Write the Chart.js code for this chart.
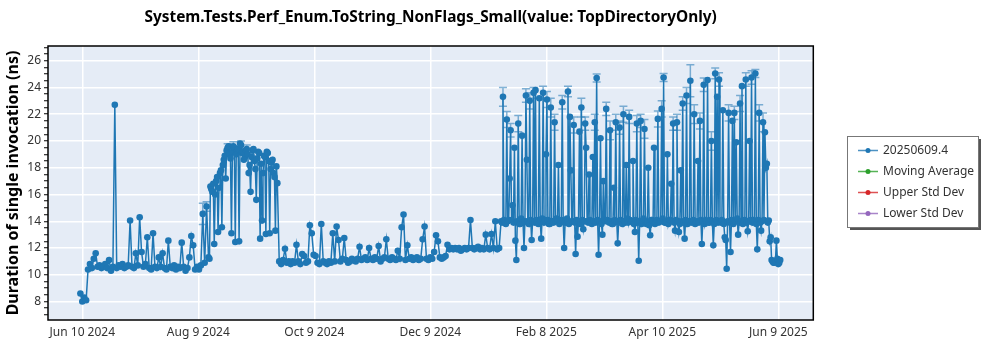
<!DOCTYPE html>
<html>
<head>
<meta charset="utf-8">
<script src="https://cdn.jsdelivr.net/npm/chart.js@4.4.1/dist/chart.umd.min.js"></script>
<style>
  html, body { margin: 0; padding: 0; background: #fff; }
  #wrap { width: 1000px; height: 350px; position: relative; }
</style>
</head>
<body>
<div id="wrap"><canvas id="chart" width="1000" height="350"></canvas></div>
<script>
'use strict';

// x values are days counted from Jun 10 2024
var tickDays = [0, 60.67, 121.33, 182, 242.67, 303.33, 364];
var tickLabels = ['Jun 10 2024', 'Aug 9 2024', 'Oct 9 2024', 'Dec 9 2024', 'Feb 8 2025', 'Apr 10 2025', 'Jun 9 2025'];
var yMajorTicks = [8, 10, 12, 14, 16, 18, 20, 22, 24, 26];

var seriesLabels = ['20250609.4', 'Moving Average', 'Upper Std Dev', 'Lower Std Dev'];
var seriesColors = ['#1f77b4', '#2ca02c', '#d62728', '#9467bd'];

// one run per day, split in periods
var junStart = -1;
var junValues = [
  8.6, 8.0, 8.3, 8.1, 10.4, 10.8, 10.5, 11.2, 11.6, 10.6,
  10.7, 10.5, 10.6, 10.8, 10.5, 11.1, 10.3, 10.6, 22.7, 10.5,
  10.7, 10.6, 10.8, 10.5, 10.6, 10.7, 14.05, 10.6, 10.5, 11.6,
  10.7, 14.3, 11.7, 10.6, 10.8, 12.8, 10.5, 10.4, 13.1, 10.6,
  10.5, 11.3, 10.6, 11.6, 10.5, 10.4, 12.55, 10.6, 10.5, 10.7,
  10.4, 10.6, 10.5, 12.4, 10.6, 10.3, 10.5, 11.3, 12.9, 12.2,
  10.4
];
var augStart = 60;
var augValues = [
  10.6, 10.4, 10.7, 14.55, 10.9, 15.1, 11.3, 16.6, 16.2, 12.3,
  17.0, 13.2, 17.6, 13.55, 18.6, 17.2, 19.5, 19.0, 13.1, 19.6,
  12.45, 19.3, 12.5, 19.7, 19.2, 18.8, 19.4, 17.6, 16.2, 19.3,
  18.5, 15.6, 19.2, 12.7, 14.05, 18.9, 13.05, 19.1, 13.1, 18.4,
  17.6, 13.3, 16.85
];
// second run of the day on the plateau
var augMidStart = 66.5;
var augMidValues = [
  11.2, 16.4, 16.8, 16.0, 17.3, 16.5, 17.8, 18.2, 18.9, 19.3,
  19.6, 18.7, 19.2, 19.5, 19.0, 19.4, 19.8, 19.1, 18.6, 19.3,
  19.0, 18.2, 18.8, 19.4, 17.9, 18.7, 19.1, 18.3, 17.6, 18.8,
  19.2, 18.5, 17.9, 18.6, 17.3, 18.1
];
var octStart = 103;
var octValues = [
  11.0, 10.8, 11.1, 11.95, 10.9, 11.0, 10.8, 11.0, 10.9, 12.25,
  11.0, 10.8, 11.55, 11.4, 10.9, 11.0, 13.7, 13.1, 11.5, 11.4,
  10.9, 10.8, 13.8, 11.0, 10.9, 10.8, 11.0, 10.9, 13.1, 11.0,
  13.6, 12.6, 11.0, 11.2, 12.75, 11.1, 10.9, 11.0, 11.2, 11.1,
  11.0, 11.2, 12.1, 11.1, 11.2, 11.3, 11.1, 12.0, 11.2, 11.1,
  11.3, 11.2, 12.15, 11.0, 11.2, 11.3, 12.65, 11.2, 11.1, 11.3,
  11.2, 11.1, 11.8, 11.2, 13.55, 14.5, 11.1, 12.2, 11.2, 11.3,
  11.1, 11.2, 11.3, 11.1, 11.2, 12.65, 13.6, 11.2, 11.1, 11.3,
  11.2, 11.7, 12.95, 12.5, 11.3, 11.2, 11.3, 11.4, 12.25, 11.9,
  12.0, 11.9, 12.0, 11.9, 12.0, 11.8, 11.9, 12.0, 11.9, 12.0,
  14.1, 12.0, 11.9, 12.0, 12.1, 11.9, 12.0, 11.9, 13.0, 12.0,
  11.9, 13.05, 12.0, 14.0, 11.9, 12.0
];
var janStart = 219;
var janValues = [
  14.0, 23.3, 13.9, 21.6, 14.1, 20.8, 15.2, 19.5, 11.1, 21.3,
  13.8, 20.4, 12.0, 23.4, 14.0, 23.0, 12.6, 23.6, 23.8, 13.9,
  23.2, 12.7, 23.6, 14.1, 23.1, 13.8, 22.5, 14.0, 21.4, 14.2,
  18.2, 13.9, 22.9, 12.0, 14.1, 23.7, 21.8, 14.0, 21.2, 11.55,
  12.85, 20.7, 22.5, 13.4, 21.3, 14.0, 17.5, 13.9, 18.8, 21.4,
  24.7, 11.5, 20.2, 13.0, 14.1, 22.4, 14.0, 20.8, 13.8, 16.5,
  21.4, 12.35, 21.0, 14.0, 22.0, 13.9, 14.2, 21.8, 14.0, 18.5,
  13.2, 21.3, 11.05, 21.5, 14.0, 20.9, 13.8, 18.0, 12.95, 14.1,
  19.5, 13.9, 21.65, 14.0, 22.4, 24.75, 13.9, 19.0, 14.1, 16.8,
  21.3, 13.3, 21.4, 13.2, 17.8, 22.8, 12.7, 23.4, 14.0, 24.5,
  14.0, 22.0, 13.9, 18.5, 21.5, 12.3, 24.2, 14.1, 24.55, 13.9,
  20.0, 12.2, 25.05, 23.3, 24.6, 13.9, 22.3, 12.8, 10.45, 22.1,
  11.7, 21.5, 22.1, 19.9, 13.0, 22.8, 24.1, 13.9, 24.6, 13.25,
  20.0, 24.75, 14.1, 25.05, 11.9, 22.1, 13.3, 21.4, 20.65, 18.3,
  14.05, 12.8, 11.0, 10.9, 12.55, 10.8, 11.1
];
// second run of the day, mostly on the 14 ns band
var janMidStart = 219.5;
var janMidValues = [
  13.9, 14.1, 13.8, 14.0, 17.2, 14.1, 13.9, 12.55, 14.0, 13.8,
  14.2, 13.9, 14.0, 18.6, 13.8, 14.1, 14.0, 13.9, 14.1, 13.8,
  14.0, 14.2, 13.9, 19.0, 14.1, 13.8, 14.0, 13.9, 14.1, 14.0,
  13.8, 14.1, 14.0, 13.9, 14.2, 13.8, 17.8, 14.0, 13.9, 14.1,
  14.0, 13.8, 14.1, 14.0, 19.5, 13.9, 14.1, 13.8, 14.0, 13.9,
  14.1, 14.0, 13.8, 17.0, 14.0, 14.1, 13.9, 14.0, 13.8, 14.1,
  14.0, 13.9, 14.1, 13.8, 14.0, 18.2, 13.9, 14.1, 14.0, 13.8,
  14.1, 13.9, 14.0, 13.8, 14.2, 14.0, 13.9, 13.7, 14.1, 14.0,
  13.8, 14.1, 13.9, 14.0, 14.2, 13.9, 14.0, 13.8, 14.1, 14.0,
  13.9, 14.1, 14.0, 13.8, 14.0, 13.9, 14.1, 13.8, 14.0, 13.9,
  14.1, 13.8, 14.0, 13.9, 14.1, 14.0, 13.8, 14.0, 13.9, 14.1,
  14.0, 13.8, 14.1, 13.9, 14.0, 14.1, 13.8, 12.6, 14.0, 13.9,
  14.1, 13.8, 14.0, 14.2, 13.9, 14.0, 13.8, 14.1, 13.9, 14.0,
  14.1, 13.9, 14.0, 13.8, 14.1, 13.9, 14.0, 14.1, 18.0, 13.9,
  12.5, 11.1, 10.9, 11.0, 11.2, 10.9
];

// visible error bars (day, half width)
var errDays = [63, 65, 76, 79, 83, 86, 220, 222, 224, 228, 232, 234, 236, 241, 243, 245, 247, 251,
  254, 257, 261, 263, 268, 269, 274, 276, 279, 281, 283, 286, 290, 292, 294, 301, 303, 304, 309,
  311, 314, 316, 318, 320, 323, 325, 329, 331, 333, 338, 341, 344, 347, 350, 352, 354, 356];
var errSizes = [0.8, 0.35, 0.3, 0.35, 0.3, 0.3, 0.7, 0.6, 0.5, 0.6, 0.5, 0.6, 0.4, 0.5, 0.6, 0.7, 0.6, 0.5,
  0.4, 0.6, 0.7, 0.5, 0.6, 0.3, 0.5, 0.7, 0.6, 0.5, 0.6, 0.5, 0.6, 0.5, 0.7, 0.6, 0.6, 0.3, 0.5,
  0.6, 0.5, 0.6, 1.2, 0.7, 0.6, 0.5, 0.7, 0.4, 0.5, 0.6, 0.5, 0.6, 0.5, 0.5, 0.3, 0.6, 0.7];

var FONT = '"Noto Sans", "DejaVu Sans", sans-serif';

function toPoints(start, values) {
  return values.map(function (v, i) { return { x: start + i, y: v }; });
}
var runPoints = [].concat(
  toPoints(junStart, junValues),
  toPoints(augStart, augValues),
  toPoints(augMidStart, augMidValues),
  toPoints(octStart, octValues),
  toPoints(janStart, janValues),
  toPoints(janMidStart, janMidValues)
).sort(function (a, b) { return a.x - b.x; });

var plotBackground = {
  id: 'plotBackground',
  beforeDraw: function (chart) {
    var a = chart.chartArea, ctx = chart.ctx;
    ctx.save();
    ctx.fillStyle = '#e5ecf6';
    ctx.fillRect(a.left, a.top, a.right - a.left, a.bottom - a.top);
    ctx.restore();
  }
};

var errorBars = {
  id: 'errorBars',
  beforeDatasetsDraw: function (chart) {
    var ctx = chart.ctx, xs = chart.scales.x, ys = chart.scales.y;
    ctx.save();
    ctx.strokeStyle = 'rgba(31,119,180,0.55)';
    ctx.lineWidth = 1.5;
    errDays.forEach(function (d, i) {
      var p = runPoints.find(function (q) { return q.x === d; });
      if (!p) return;
      var px = xs.getPixelForValue(d);
      var top = ys.getPixelForValue(p.y + errSizes[i]);
      var bot = ys.getPixelForValue(p.y - errSizes[i]);
      ctx.beginPath();
      ctx.moveTo(px, top); ctx.lineTo(px, bot);
      ctx.moveTo(px - 4, top); ctx.lineTo(px + 4, top);
      ctx.moveTo(px - 4, bot); ctx.lineTo(px + 4, bot);
      ctx.stroke();
    });
    ctx.restore();
  }
};

var frameAndText = {
  id: 'frameAndText',
  afterDraw: function (chart) {
    var a = chart.chartArea, ctx = chart.ctx;
    ctx.save();
    ctx.strokeStyle = '#000';
    ctx.lineWidth = 1.5;
    ctx.strokeRect(a.left, a.top, a.right - a.left, a.bottom - a.top);

    // title
    ctx.fillStyle = '#000';
    ctx.font = 'bold 15.4px ' + FONT;
    ctx.textAlign = 'center';
    ctx.textBaseline = 'middle';
    ctx.fillText('System.Tests.Perf_Enum.ToString_NonFlags_Small(value: TopDirectoryOnly)', (a.left + a.right) / 2, 18);

    // legend box
    var bx = 847, by = 136, bw = 131, bh = 91;
    ctx.fillStyle = '#555';
    ctx.fillRect(bx + 3, by + 3, bw, bh);
    ctx.fillStyle = '#fff';
    ctx.fillRect(bx, by, bw, bh);
    ctx.strokeStyle = '#777';
    ctx.lineWidth = 1;
    ctx.strokeRect(bx + 0.5, by + 0.5, bw, bh);
    ctx.font = '12px ' + FONT;
    ctx.textAlign = 'left';
    chart.data.datasets.forEach(function (ds, i) {
      var y = by + 14.5 + i * 21;
      ctx.strokeStyle = ds.borderColor;
      ctx.globalAlpha = 0.8;
      ctx.lineWidth = 1.5;
      ctx.beginPath();
      ctx.moveTo(bx + 11, y); ctx.lineTo(bx + 31, y);
      ctx.stroke();
      ctx.globalAlpha = 1;
      ctx.fillStyle = ds.borderColor;
      ctx.beginPath();
      ctx.arc(bx + 21, y, 2.5, 0, Math.PI * 2);
      ctx.fill();
      ctx.fillStyle = '#333';
      ctx.fillText(ds.label, bx + 36, y);
    });
    ctx.restore();
  }
};

var datasets = seriesLabels.map(function (label, i) {
  return {
    label: label,
    data: i === 0 ? runPoints : [],
    borderColor: seriesColors[i],
    backgroundColor: seriesColors[i],
    borderWidth: 1.5,
    pointRadius: 3.3,
    pointBorderWidth: 0,
    pointHoverRadius: 3.3,
    tension: 0
  };
});

var config = {
  type: 'line',
  data: { datasets: datasets },
  options: {
    responsive: false,
    animation: false,
    devicePixelRatio: 1,
    layout: { padding: { top: 46, right: 186.7, bottom: 0, left: 0 } },
    plugins: {
      legend: { display: false },
      title: { display: false },
      tooltip: { enabled: false }
    },
    scales: {
      x: {
        type: 'linear',
        min: -17.94,
        max: 382.3,
        afterBuildTicks: function (s) { s.ticks = tickDays.map(function (v) { return { value: v }; }); },
        afterFit: function (s) { s.height = 30; },
        ticks: {
          autoSkip: false, maxRotation: 0, padding: 5, color: '#333',
          font: { family: FONT, size: 12 },
          callback: function (v, i) { return tickLabels[i]; }
        },
        grid: { color: '#fff', lineWidth: 1.5, drawTicks: false },
        border: { display: false }
      },
      y: {
        min: 6.62,
        max: 27.1,
        afterBuildTicks: function (s) {
          var t = [];
          for (var v = 7; v <= 27; v += 0.5) t.push({ value: v });
          s.ticks = t;
        },
        afterFit: function (s) { s.width = 48; },
        ticks: {
          autoSkip: false, padding: 3, color: '#333',
          font: { family: FONT, size: 12 },
          callback: function (v) { return yMajorTicks.indexOf(v) >= 0 ? String(v) : ''; }
        },
        grid: {
          color: function (c) { return c.tick && yMajorTicks.indexOf(c.tick.value) >= 0 ? '#fff' : 'rgba(0,0,0,0)'; },
          lineWidth: 1.5,
          tickColor: '#000',
          tickWidth: 1,
          tickLength: 4
        },
        border: { display: false },
        title: {
          display: true,
          text: 'Duration of single invocation (ns)',
          color: '#000',
          font: { family: FONT, size: 16, weight: 'bold' },
          padding: { top: 4, bottom: 0 }
        }
      }
    }
  },
  plugins: [plotBackground, errorBars, frameAndText]
};

window.myChart = new Chart(document.getElementById('chart').getContext('2d'), config);
</script>
</body>
</html>
